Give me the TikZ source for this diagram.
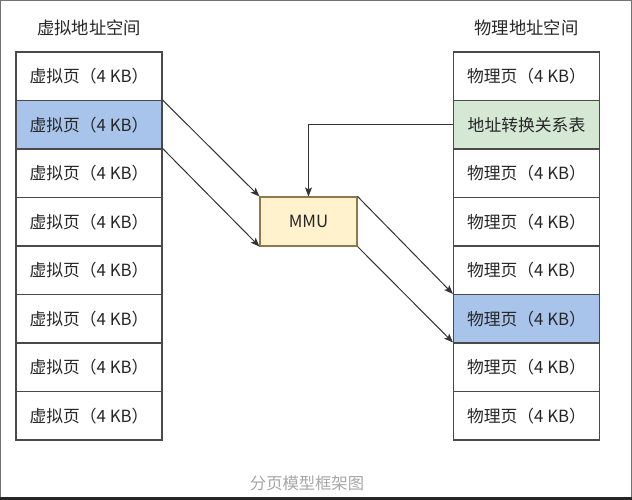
\documentclass[tikz,border=0pt]{standalone}
\usepackage{fontspec}
\usepackage{tikz}
\usetikzlibrary{positioning,arrows.meta}
\newfontfamily\cjk{Noto Sans CJK SC}
\definecolor{pageblue}{HTML}{A9C4EB}
\definecolor{tablegreen}{HTML}{D5E8D4}
\definecolor{mmuyellow}{HTML}{FFF2CC}
\definecolor{mmuedge}{HTML}{8C7A4B}
\definecolor{celledge}{HTML}{4A4A4A}
\tikzset{
  page/.style={draw=celledge,line width=1.1pt,minimum width=146pt,minimum height=48.5pt,inner sep=0pt,font=\cjk\fontsize{16.8}{19}\selectfont,text=black!85},
  vsel/.style={fill=pageblue},
  ptab/.style={fill=tablegreen},
  mmubox/.style={draw=mmuedge,fill=mmuyellow,line width=1.1pt,minimum width=97pt,minimum height=49pt,inner sep=0pt,font=\cjk\fontsize{16.8}{19}\selectfont,text=black!85},
  title/.style={font=\cjk\fontsize{17.3}{20}\selectfont,text=black!85},
  caption/.style={font=\cjk\fontsize{16.3}{19}\selectfont,text=black!35},
  link/.style={draw=black!80,line width=1pt,-{Stealth[length=9pt,width=7pt,inset=2pt]}}
}
\begin{document}
\begin{tikzpicture}[x=1pt,y=-1pt]
  \useasboundingbox (0,0) rectangle (632,500);
  % screenshot frame
  \draw[black!55,line width=1pt] (0.5,0.5) rectangle (631.5,497);
  \fill[black!85] (0,497) rectangle (632,500);
  % virtual pages
  \node[title] (vtitle) at (89,28) {虚拟地址空间};
  \foreach \i in {1,...,8}
    \node[page] (v\i) at (89,{76.25+48.5*(\i-1)}) {虚拟页（4 KB）};
  \node[page,vsel] (v2) at (89,124.75) {虚拟页（4 KB）};
  % physical pages
  \node[title] (ptitle) at (526.5,28) {物理地址空间};
  \foreach \i in {1,...,8}
    \node[page] (p\i) at (526.5,{76.25+48.5*(\i-1)}) {物理页（4 KB）};
  \node[page,ptab] (p2) at (526.5,124.75) {地址转换关系表};
  \node[page,vsel] (p6) at (526.5,318.75) {物理页（4 KB）};
  % mmu
  \node[mmubox] (mmu) at (308.5,221.5) {MMU};
  \draw[link] (v2.north east) -- (mmu.north west);
  \draw[link] (v3.north east) -- (mmu.south west);
  \draw[link] (p2.west) -| (mmu.north);
  \draw[link] (mmu.north east) -- (p6.north west);
  \draw[link] (mmu.south east) -- (p7.north west);
  \node[caption] (cap) at (307,483) {分页模型框架图};
\end{tikzpicture}
\end{document}
